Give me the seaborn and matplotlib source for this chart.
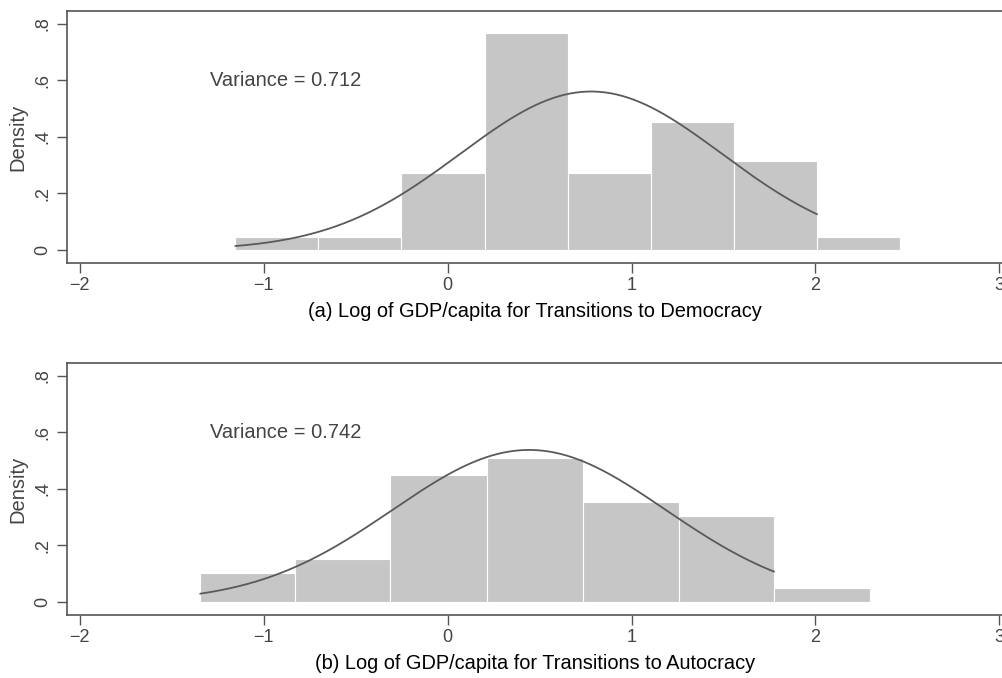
import numpy as np
import seaborn as sns
import matplotlib.pyplot as plt

# (a) transitions to democracy: bin edges and counts per bin
dem_edges = [-1.155, -0.703, -0.251, 0.201, 0.653, 1.105, 1.557, 2.009, 2.461]
dem_counts = [1, 1, 6, 17, 6, 10, 7, 1]
dem_mean, dem_sd = 0.78, 0.712

# (b) transitions to autocracy
aut_edges = [-1.346, -0.828, -0.311, 0.216, 0.734, 1.256, 1.775, 2.296]
aut_counts = [2, 3, 9, 10, 7, 6, 1]
aut_mean, aut_sd = 0.443, 0.742

xticks = [-2, -1, 0, 1, 2, 3]
yticks = [0, 0.2, 0.4, 0.6, 0.8]
ytick_labels = ["0", ".2", ".4", ".6", ".8"]

sns.set_style("white")
plt.rcParams["font.family"] = ["Liberation Sans", "DejaVu Sans"]

fig = plt.figure(figsize=(10.03, 6.78), dpi=100)
ax1 = fig.add_axes([0.0668, 0.6121, 0.9332, 0.3717])
ax2 = fig.add_axes([0.0668, 0.0929, 0.9332, 0.3717])

panels = [
    (ax1, dem_edges, dem_counts, dem_mean, dem_sd, "Variance = 0.712",
     "(a) Log of GDP/capita for Transitions to Democracy"),
    (ax2, aut_edges, aut_counts, aut_mean, aut_sd, "Variance = 0.742",
     "(b) Log of GDP/capita for Transitions to Autocracy"),
]

grey = "#555555"
for ax, edges, counts, mu, sd, vtext, xlabel in panels:
    e = np.array(edges)
    centers = (e[:-1] + e[1:]) / 2
    sns.histplot(x=list(centers), weights=list(counts), bins=list(edges),
                 stat="density", color="#c6c6c6", alpha=1,
                 edgecolor="white", linewidth=0.8, ax=ax)
    # normal density over the span of the first and last full bins
    xs = np.linspace(e[0], e[-2], 300)
    ys = np.exp(-0.5 * ((xs - mu) / sd) ** 2) / (sd * np.sqrt(2 * np.pi))
    sns.lineplot(x=xs, y=ys, color="#5a5a5a", linewidth=1.3, ax=ax)

    ax.set_xlim(-2.07, 3.02)
    ax.set_ylim(-0.046, 0.845)
    ax.set_xticks(xticks)
    ax.set_xticklabels(["\u22122", "\u22121", "0", "1", "2", "3"])
    ax.set_yticks(yticks)
    ax.set_yticklabels(ytick_labels, rotation=90, va="center")
    ax.tick_params(axis="both", direction="out", length=7, width=1,
                   color=grey, labelcolor="#444444", labelsize=13, pad=4,
                   bottom=True, left=True)
    ax.tick_params(axis="x", pad=3)
    for side in ["left", "top", "bottom"]:
        ax.spines[side].set_color(grey)
        ax.spines[side].set_linewidth(1.2)
    ax.spines["right"].set_visible(False)

    ax.text(-1.29, 0.6, vtext, ha="left", va="center", fontsize=14.5,
            color="#444444")
    ax.set_ylabel("Density", fontsize=14.5, color="#444444", labelpad=5)
    ax.set_xlabel(xlabel, fontsize=14.4, color="black", labelpad=6)

fig.savefig("out.png", dpi=100)
